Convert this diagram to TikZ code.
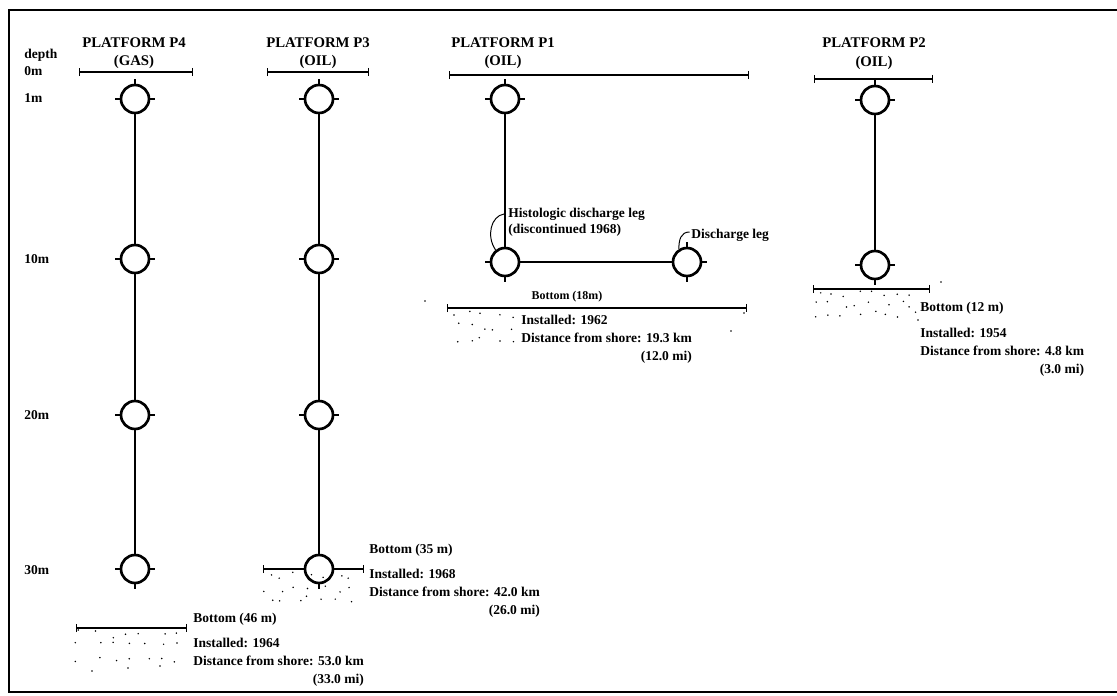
\documentclass[tikz,border=0pt]{standalone}
\usepackage{fontspec}
\setmainfont{Liberation Serif}
\usetikzlibrary{arrows.meta,positioning}

\begin{document}
\begin{tikzpicture}[
  x=0.025cm, y=-0.025cm,
  font=\fontsize{9.6}{12.8}\selectfont\bfseries,
  >={Bar[width=6pt]},
  leg/.style={circle, draw, line width=1.9pt, minimum size=0.7cm,
              inner sep=0pt, fill=white},
  pipe/.style={line width=2.1pt},
  gauge/.style={<->, line width=0.9pt},
  legtick/.style={line width=1.1pt},
  ptitle/.style={anchor=base, inner sep=0pt,
              font=\fontsize{10.5}{12}\selectfont\bfseries},
  depthlbl/.style={anchor=base west, inner sep=0pt},
  infotxt/.style={anchor=base west, inner sep=0pt},
  callout/.style={line width=0.7pt}]

%% Lienzo de 1117 x 696 px, una unidad = un pixel de la referencia.
\useasboundingbox (0,0) rectangle (1117,696);
\draw[line width=1.5pt] (1117,10) -- (9,10) -- (9,692) -- (1117,692);

%% ---- escala de profundidad ----
\node[depthlbl] (dlbl)  at (24,59)  {depth};
\node[depthlbl] (d0)    at (24,75)  {0m};
\node[depthlbl] (d1)    at (24,103) {1m};
\node[depthlbl] (d10)   at (24,263) {10m};
\node[depthlbl] (d20)   at (24,419) {20m};
\node[depthlbl] (d30)   at (24,574) {30m};

%% ---- cabeceras ----
\node[ptitle] (t4) at (134,48) {PLATFORM P4};
\node[ptitle] (s4) at (134,66) {(GAS)};
\node[ptitle] (t3) at (318,48) {PLATFORM P3};
\node[ptitle] (s3) at (318,66) {(OIL)};
\node[ptitle] (t1) at (503,48) {PLATFORM P1};
\node[ptitle] (s1) at (503,66) {(OIL)};
\node[ptitle] (t2) at (874,48) {PLATFORM P2};
\node[ptitle] (s2) at (874,67) {(OIL)};

\draw[gauge] (79,72)  -- (193,72);
\draw[gauge] (267,72) -- (369,72);
\draw[gauge] (449,75) -- (749,75);
\draw[gauge] (814,79) -- (933,79);

%% ---- patas ----
\node[leg] (p4a) at (135,99)  {};
\node[leg] (p4b) at (135,259) {};
\node[leg] (p4c) at (135,415) {};
\node[leg] (p4d) at (135,569) {};

\node[leg] (p3a) at (319,99)  {};
\node[leg] (p3b) at (319,259) {};
\node[leg] (p3c) at (319,415) {};
\node[leg] (p3d) at (319,569) {};

\node[leg] (p1a) at (505,99)  {};
\node[leg] (p1b) at (505,262) {};
\node[leg] (p1c) at (687,262) {};

\node[leg] (p2a) at (875,100) {};
\node[leg] (p2b) at (875,265) {};

\draw[pipe] (p4a) -- (p4b) (p4b) -- (p4c) (p4c) -- (p4d);
\draw[pipe] (p3a) -- (p3b) (p3b) -- (p3c) (p3c) -- (p3d);
\draw[pipe] (p1a) -- (p1b) (p1b) -- (p1c);
\draw[pipe] (p2a) -- (p2b);

%% marcas en cruz alrededor de cada pata
\foreach \n in {p4a,p4b,p4c,p4d,p3a,p3b,p3c,p3d,p1a,p1b,p1c,p2a,p2b}
  \foreach \a/\dx/\dy in {north/0/-5,south/0/5,east/5/0,west/-5/0}
    \draw[legtick] (\n.\a) -- ++(\dx,\dy);

%% ---- P1: rótulos de las patas de descarga ----
\node[infotxt] (hist) at (508,217)
  {\begin{tabular}[t]{@{}l@{}}Histologic discharge leg\\[-1pt]
   (discontinued 1968)\end{tabular}};
\node[infotxt] (disch) at (691,238) {Discharge leg};

\coordinate (histtip) at (504,214);
\draw[callout] (histtip) .. controls (491,216) and (486,236) .. (p1b.128);
\draw[callout] ([xshift=-1pt,yshift=2pt]disch.west) .. controls +(-9,0) and +(0,-9) .. (p1c.122);

%% ---- fondos ----
\draw[gauge] (76,628) -- (187,628);
\draw[line width=0.9pt, {Bar[width=6pt]}-] (263,569) -- (p3d.west);
\draw[line width=0.9pt, -{Bar[width=6pt]}] (p3d.east) -- (364,569);
\draw[gauge] (447,308) -- (747,308);
\draw[gauge] (813,289) -- (930,289);

%% sedimento: retícula con temblor, semilla fija para que no cambie
\pgfmathsetseed{17}
\foreach \gx in {80,96,...,180}
  \foreach \gy in {634,646,658}
    \fill ({\gx+6*rand},{\gy+4*rand}) circle (0.6pt);
\fill (92,671) circle (0.6pt) (128,668) circle (0.6pt) (160,666) circle (0.6pt);
\foreach \gx in {268,282,...,356}
  \foreach \gy in {575,588,600}
    \fill ({\gx+5*rand},{\gy+4*rand}) circle (0.6pt);
\foreach \gx in {454,468,...,510}
  \foreach \gy in {314,326,338}
    \fill ({\gx+5*rand},{\gy+4*rand}) circle (0.6pt);
\fill (744,313) circle (0.6pt) (731,331) circle (0.6pt) (425,301) circle (0.6pt);
\foreach \gx in {816,830,...,916}
  \foreach \gy in {294,304,314}
    \fill ({\gx+5*rand},{\gy+3*rand}) circle (0.6pt);
\fill (941,282) circle (0.6pt) (918,320) circle (0.6pt);

%% ---- datos de cada plataforma ----
\node[infotxt] (p4bot) at (193,622) {Bottom (46 m)};
\node[infotxt] (p4info) at (193,647)
  {\begin{tabular}[t]{@{}l@{}}Installed: 1964\\Distance from shore: 53.0 km\\
   \hfill(33.0 mi)\end{tabular}};

\node[infotxt] (p3bot) at (369,553) {Bottom (35 m)};
\node[infotxt] (p3info) at (369,578)
  {\begin{tabular}[t]{@{}l@{}}Installed: 1968\\Distance from shore: 42.0 km\\
   \hfill(26.0 mi)\end{tabular}};

\node[anchor=base, inner sep=0pt, font=\fontsize{8.5}{10}\selectfont\bfseries]
  (p1bot) at (567,299) {Bottom (18m)};
\node[infotxt] (p1info) at (521,324)
  {\begin{tabular}[t]{@{}l@{}}Installed: 1962\\Distance from shore: 19.3 km\\
   \hfill(12.0 mi)\end{tabular}};

\node[infotxt] (p2bot) at (920,311) {Bottom (12 m)};
\node[infotxt] (p2info) at (920,337)
  {\begin{tabular}[t]{@{}l@{}}Installed: 1954\\Distance from shore: 4.8 km\\
   \hfill(3.0 mi)\end{tabular}};

\end{tikzpicture}
\end{document}
